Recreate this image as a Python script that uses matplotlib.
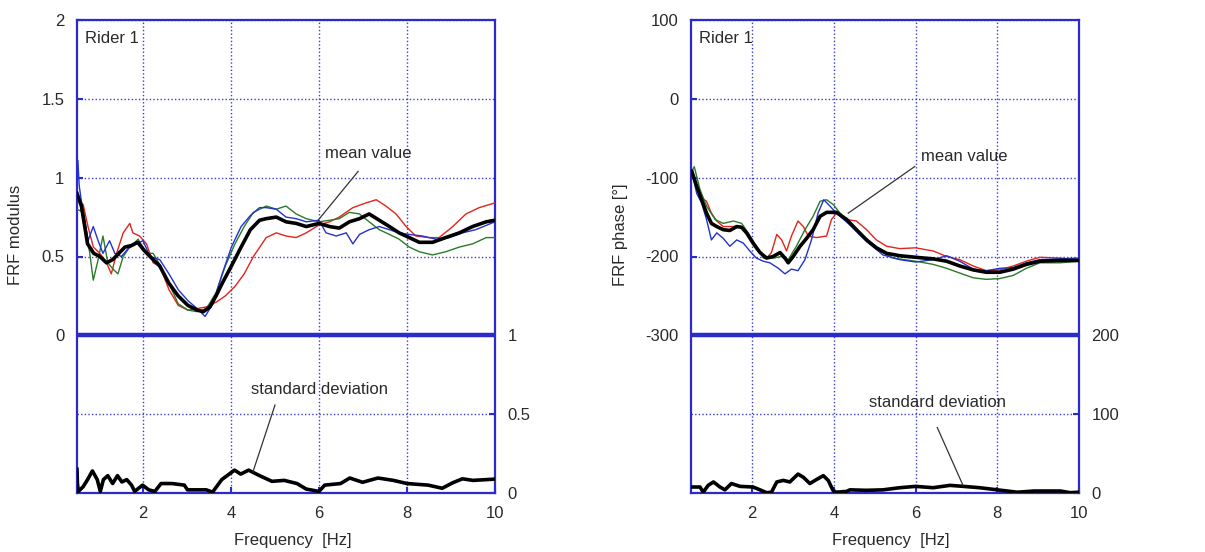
import matplotlib
matplotlib.use("Agg")
import matplotlib.pyplot as plt

plt.rcParams['font.family'] = ['Liberation Sans', 'DejaVu Sans']

# ---------------- Left panel: FRF modulus ----------------
mod_mean_f = [0.5, 0.6, 0.74, 0.88, 1.02, 1.17, 1.31, 1.45, 1.59, 1.74, 1.88, 2.02, 2.16, 2.38, 2.59, 2.8,
              3.02, 3.23, 3.37, 3.52, 3.66, 3.8, 4.01, 4.23, 4.44, 4.65, 4.8, 5.03, 5.25, 5.48, 5.71, 6.0,
              6.24, 6.46, 6.69, 6.92, 7.14, 7.37, 7.6, 7.82, 8.05, 8.28, 8.58, 8.88, 9.19, 9.49, 9.8, 10]
mod_mean = [0.90, 0.82, 0.58, 0.52, 0.50, 0.46, 0.48, 0.52, 0.56, 0.57, 0.59, 0.54, 0.50, 0.44, 0.33, 0.25,
            0.19, 0.16, 0.15, 0.18, 0.25, 0.33, 0.44, 0.56, 0.67, 0.73, 0.74, 0.75, 0.72, 0.71, 0.69, 0.71,
            0.69, 0.68, 0.72, 0.74, 0.77, 0.73, 0.69, 0.65, 0.62, 0.59, 0.59, 0.62, 0.65, 0.69, 0.72, 0.73]

mod_red_f = [0.5, 0.64, 0.75, 0.87, 1.02, 1.17, 1.28, 1.4, 1.55, 1.7, 1.77, 1.92, 2.08, 2.23, 2.38, 2.59,
             2.8, 3.02, 3.23, 3.44, 3.66, 3.87, 4.09, 4.3, 4.51, 4.8, 5.03, 5.25, 5.48, 5.71, 6.0, 6.24,
             6.46, 6.77, 7.07, 7.3, 7.52, 7.75, 7.98, 8.2, 8.5, 8.73, 9.04, 9.34, 9.64, 10]
mod_red = [0.86, 0.83, 0.69, 0.56, 0.52, 0.46, 0.39, 0.52, 0.65, 0.71, 0.65, 0.63, 0.58, 0.46, 0.44, 0.29,
           0.19, 0.16, 0.17, 0.18, 0.21, 0.25, 0.31, 0.39, 0.50, 0.62, 0.65, 0.63, 0.62, 0.65, 0.70, 0.72,
           0.75, 0.81, 0.84, 0.86, 0.82, 0.77, 0.69, 0.63, 0.62, 0.62, 0.69, 0.77, 0.81, 0.84]

mod_green_f = [0.5, 0.65, 0.79, 0.87, 0.98, 1.09, 1.2, 1.32, 1.43, 1.55, 1.7, 1.89, 2.08, 2.23, 2.38, 2.59,
               2.8, 3.02, 3.23, 3.44, 3.66, 3.87, 4.09, 4.3, 4.51, 4.8, 5.03, 5.25, 5.48, 5.71, 6.0, 6.24,
               6.46, 6.69, 6.92, 7.14, 7.37, 7.6, 7.82, 8.05, 8.28, 8.58, 8.88, 9.19, 9.49, 9.8, 10]
mod_green = [0.80, 0.78, 0.52, 0.35, 0.48, 0.63, 0.46, 0.42, 0.39, 0.50, 0.56, 0.61, 0.52, 0.52, 0.45, 0.33,
             0.20, 0.16, 0.15, 0.17, 0.27, 0.44, 0.58, 0.69, 0.78, 0.82, 0.80, 0.82, 0.77, 0.74, 0.72, 0.73,
             0.74, 0.78, 0.77, 0.72, 0.67, 0.64, 0.61, 0.56, 0.53, 0.51, 0.53, 0.56, 0.58, 0.62, 0.62]

mod_blue_f = [0.5, 0.52, 0.55, 0.6, 0.75, 0.87, 0.98, 1.09, 1.24, 1.36, 1.51, 1.66, 1.85, 2.0, 2.16, 2.38,
              2.59, 2.8, 3.02, 3.23, 3.41, 3.59, 3.8, 4.01, 4.23, 4.44, 4.65, 4.8, 5.03, 5.25, 5.48, 5.71,
              6.0, 6.16, 6.39, 6.62, 6.77, 6.92, 7.14, 7.37, 7.6, 7.82, 8.05, 8.35, 8.66, 8.96, 9.26, 9.56, 10]
mod_blue = [0.90, 1.11, 0.95, 0.85, 0.60, 0.69, 0.60, 0.52, 0.60, 0.52, 0.50, 0.55, 0.58, 0.60, 0.50, 0.48,
            0.39, 0.29, 0.22, 0.17, 0.12, 0.20, 0.39, 0.56, 0.69, 0.76, 0.81, 0.81, 0.80, 0.75, 0.74, 0.72,
            0.73, 0.65, 0.63, 0.65, 0.58, 0.64, 0.67, 0.69, 0.67, 0.65, 0.64, 0.63, 0.61, 0.62, 0.65, 0.67, 0.72]

mod_std_f = [0.5, 0.51, 0.53, 0.64, 0.74, 0.85, 0.96, 1.03, 1.1, 1.2, 1.31, 1.42, 1.52, 1.63, 1.74, 1.81,
             1.99, 2.13, 2.27, 2.41, 2.66, 2.94, 3.01, 3.44, 3.58, 3.79, 4.08, 4.22, 4.4, 4.65, 4.93, 5.21,
             5.5, 5.71, 6.0, 6.13, 6.49, 6.7, 6.99, 7.34, 7.69, 8.0, 8.48, 8.8, 9.04, 9.26, 9.5, 10]
mod_std = [0.15, 0.06, 0.01, 0.04, 0.085, 0.14, 0.085, 0.01, 0.085, 0.11, 0.06, 0.11, 0.07, 0.085, 0.05, 0.01,
           0.05, 0.02, 0.01, 0.06, 0.06, 0.05, 0.02, 0.02, 0.005, 0.085, 0.145, 0.12, 0.145, 0.11, 0.074, 0.08,
           0.06, 0.025, 0.01, 0.05, 0.06, 0.095, 0.068, 0.095, 0.08, 0.06, 0.05, 0.03, 0.065, 0.09, 0.08, 0.088]

# ---------------- Right panel: FRF phase ----------------
ph_mean_f = [0.52, 0.64, 0.76, 0.88, 1.0, 1.13, 1.29, 1.45, 1.62, 1.74, 1.86, 2.02, 2.19, 2.35, 2.51, 2.68,
             2.8, 2.88, 3.0, 3.17, 3.33, 3.49, 3.66, 3.82, 4.06, 4.31, 4.55, 4.8, 5.04, 5.29, 5.61, 6.0,
             6.43, 6.76, 7.08, 7.41, 7.73, 8.06, 8.39, 8.71, 9.04, 9.53, 10]
ph_mean = [-92, -111, -128, -145, -158, -162, -166, -167, -162, -163, -170, -183, -195, -202, -200, -195,
           -202, -208, -200, -187, -177, -166, -149, -144, -144, -153, -166, -179, -189, -196, -199, -201,
           -203, -206, -212, -217, -220, -220, -216, -210, -206, -205, -205]

ph_red_f = [0.52, 0.72, 0.88, 1.0, 1.13, 1.29, 1.54, 1.7, 1.86, 2.1, 2.35, 2.47, 2.6, 2.72, 2.84, 2.96,
            3.12, 3.25, 3.37, 3.57, 3.82, 3.94, 4.06, 4.31, 4.55, 4.8, 5.04, 5.29, 5.61, 6.0, 6.43, 6.76,
            7.08, 7.41, 7.73, 8.06, 8.39, 8.71, 9.04, 9.53, 10]
ph_red = [-92, -124, -130, -145, -155, -162, -162, -161, -170, -191, -202, -195, -172, -179, -193, -174,
          -155, -162, -174, -176, -174, -153, -145, -153, -155, -166, -179, -187, -190, -189, -193, -200,
          -204, -212, -218, -217, -212, -206, -201, -202, -204]

ph_green_f = [0.52, 0.58, 0.72, 0.88, 1.09, 1.29, 1.54, 1.74, 1.9, 2.1, 2.27, 2.51, 2.72, 2.88, 3.08, 3.29,
              3.49, 3.66, 3.82, 3.98, 4.15, 4.47, 4.8, 5.12, 5.45, 6.0, 6.43, 6.76, 7.08, 7.41, 7.73, 8.06,
              8.39, 8.71, 9.04, 9.53, 10]
ph_green = [-92, -86, -115, -136, -153, -158, -155, -158, -170, -187, -202, -202, -200, -204, -187, -166,
            -149, -130, -128, -134, -145, -162, -179, -193, -202, -206, -210, -215, -221, -227, -229, -228,
            -224, -215, -208, -208, -206]

ph_blue_f = [0.52, 0.64, 0.76, 0.88, 1.0, 1.13, 1.29, 1.45, 1.62, 1.78, 1.94, 2.1, 2.27, 2.43, 2.64, 2.8,
             2.96, 3.12, 3.29, 3.45, 3.61, 3.75, 3.9, 4.06, 4.39, 4.8, 5.2, 5.61, 6.0, 6.43, 6.76, 7.08,
             7.41, 7.73, 8.06, 8.39, 8.71, 9.04, 9.53, 10]
ph_blue = [-92, -120, -132, -153, -179, -170, -177, -187, -179, -183, -193, -202, -206, -208, -215, -222,
           -216, -218, -204, -179, -145, -128, -136, -145, -160, -181, -198, -204, -207, -204, -199, -206,
           -216, -218, -215, -214, -208, -204, -203, -202]

ph_std_f = [0.52, 0.72, 0.8, 0.92, 1.05, 1.21, 1.33, 1.49, 1.7, 2.02, 2.19, 2.35, 2.47, 2.6, 2.76, 2.92,
            3.12, 3.25, 3.41, 3.57, 3.74, 3.86, 3.98, 4.06, 4.31, 4.39, 4.8, 5.2, 5.61, 6.0, 6.43, 6.84,
            7.17, 7.57, 8.0, 8.49, 8.9, 9.55, 9.78, 10]
ph_std = [7.6, 7.6, 1, 9.7, 14, 7.6, 4, 12, 8.4, 7.6, 4, 0.4, 1, 14, 16, 14,
          24, 20, 12, 17, 22, 16, 3, 1, 2, 4, 3.4, 4, 6.7, 8.4, 6.7, 9.7,
          8.4, 6.7, 4, 1, 2.5, 2.5, 0.4, 1]

# ---------------- styling ----------------
BLUE_AX = '#2b2bcc'
GRID = '#3b3bd6'
TXT = '#2a2a2a'
C_RED = '#e3241b'
C_GREEN = '#2b7a2b'
C_BLUE = '#2233cc'
FS = 12

fig = plt.figure(figsize=(12.05, 5.52), dpi=100)
W, H = 1205.0, 552.0


def make_panel(left_px, right_px, ylim, yticks, tick_fmt, sep, low_grid, ylim2, yticks2, tick2_fmt,
               ylabel, ylabel_xy, series, mean, std, annots):
    ax = fig.add_axes([left_px / W, 1 - 493 / H, (right_px - left_px) / W, (493 - 20) / H])
    ax.set_xlim(0.5, 10)
    ax.set_ylim(*ylim)
    ax.set_xticks([2, 4, 6, 8, 10])
    ax.set_yticks(yticks)
    ax.set_yticklabels([tick_fmt(v) for v in yticks])
    for sp in ax.spines.values():
        sp.set_color(BLUE_AX)
        sp.set_linewidth(1.6)
    ax.grid(True, color=GRID, linestyle=(0, (1, 1.6)), linewidth=1.0)
    ax.axhline(low_grid, color=GRID, linestyle=(0, (1, 1.6)), linewidth=1.0)
    ax.axhline(sep, color=BLUE_AX, linewidth=3.2, zorder=3)
    ax.tick_params(axis='both', direction='in', length=4, width=1.5, color=BLUE_AX,
                   labelsize=FS, labelcolor=TXT, right=False, top=False)
    ax.tick_params(axis='y', pad=9)
    ax.tick_params(axis='x', pad=9)
    ax.set_xlabel('Frequency  [Hz]', fontsize=FS, color=TXT)
    ax.xaxis.set_label_coords(0.516, -0.085)
    ax.set_ylabel(ylabel, fontsize=FS, color=TXT)
    ax.yaxis.set_label_coords(*ylabel_xy)
    ax.text(0.02, 0.96, 'Rider 1', transform=ax.transAxes, fontsize=FS, color=TXT, va='center', ha='left')

    for (f, v, c) in series:
        ax.plot(f, v, color=c, linewidth=1.0, zorder=4)
    ax.plot(mean[0], mean[1], color='black', linewidth=2.6, zorder=5)

    ax2 = ax.twinx()
    ax2.set_ylim(*ylim2)
    ax2.set_yticks(yticks2)
    ax2.set_yticklabels([tick2_fmt(v) for v in yticks2])
    ax2.tick_params(axis='y', direction='in', length=4, width=1.5, color=BLUE_AX,
                    labelsize=FS, labelcolor=TXT, pad=9)
    for sp in ax2.spines.values():
        sp.set_visible(False)
    ax2.plot(std[0], std[1], color='black', linewidth=2.6, zorder=5)

    # annotations
    (mt, mline), (st, sline) = annots
    ax.text(mt[0], mt[1], 'mean value', fontsize=FS, color=TXT, ha='left', va='center')
    ax.plot(mline[0], mline[1], color='#333333', linewidth=0.9, zorder=6)
    ax2.text(st[0], st[1], 'standard deviation', fontsize=FS, color=TXT, ha='left', va='center')
    ax2.plot(sline[0], sline[1], color='#333333', linewidth=0.9, zorder=6)
    return ax, ax2


def fmt_mod(v):
    return ('%g' % v)


make_panel(77, 495, (-1, 2), [0, 0.5, 1, 1.5, 2], fmt_mod, 0, -0.5, (0, 3), [0, 0.5, 1], fmt_mod,
           'FRF modulus', (-0.13, 0.545),
           [(mod_red_f, mod_red, C_RED), (mod_green_f, mod_green, C_GREEN), (mod_blue_f, mod_blue, C_BLUE)],
           (mod_mean_f, mod_mean), (mod_std_f, mod_std),
           (((6.14, 1.155), ([6.89, 5.98], [1.04, 0.73])),
            ((4.45, 0.657), ([5.0, 4.5], [0.558, 0.135]))))

make_panel(691, 1079, (-500, 100), [-300, -200, -100, 0, 100], lambda v: '%d' % v, -300, -400,
           (0, 600), [0, 100, 200], lambda v: '%d' % v,
           'FRF phase [°]', (-0.163, 0.545),
           [(ph_red_f, ph_red, C_RED), (ph_green_f, ph_green, C_GREEN), (ph_blue_f, ph_blue, C_BLUE)],
           (ph_mean_f, ph_mean), (ph_std_f, ph_std),
           (((6.13, -72.7), ([5.98, 4.35], [-85.8, -145])),
            ((4.86, 115), ([6.53, 7.16], [83, 9.7]))))

fig.savefig('out.png', dpi=100, facecolor='white')
